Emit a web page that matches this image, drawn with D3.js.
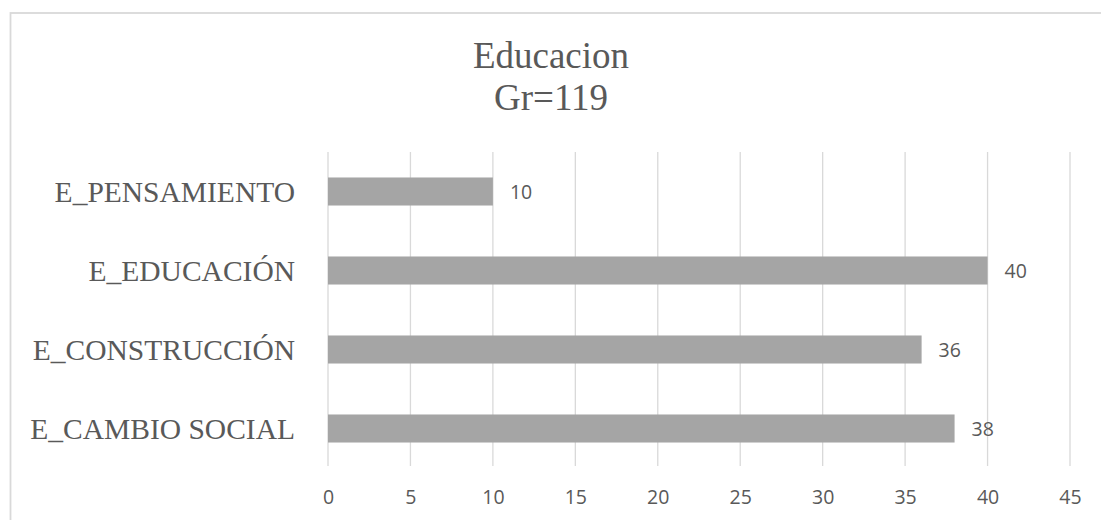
<!DOCTYPE html>
<html>
<head>
<meta charset="utf-8">
<script src="https://cdn.jsdelivr.net/npm/d3@7"></script>
<style>
  body { margin: 0; background: #fff; }
  svg { display: block; }
</style>
</head>
<body>
<div id="chart"></div>
<script>
// Data, top to bottom as drawn
var categories = ['E_PENSAMIENTO', 'E_EDUCACIÓN', 'E_CONSTRUCCIÓN', 'E_CAMBIO SOCIAL'];
var values = [10, 40, 36, 38];
var tickValues = [0, 5, 10, 15, 20, 25, 30, 35, 40, 45];
var titleLines = ['Educacion', 'Gr=119'];

var width = 1101;
var height = 520;
var textColor = '#595959';
var gridColor = '#d9d9d9';
var barColor = '#a5a5a5';

var svg = d3.select('#chart')
            .append('svg')
            .attr('width', width)
            .attr('height', height);

// Chart area border
svg.append('rect')
   .attr('x', 10.5)
   .attr('y', 13)
   .attr('width', 1100)
   .attr('height', 520)
   .attr('fill', 'none')
   .attr('stroke', gridColor)
   .attr('stroke-width', 1.8);

var x = d3.scaleLinear()
          .domain([0, 45])
          .range([328, 1070]);

var y = d3.scaleBand()
          .domain(categories)
          .range([152, 468])
          .paddingInner(0.645)
          .paddingOuter(0.3225);

// Grid lines
svg.selectAll('.grid')
   .data(tickValues)
   .enter()
   .append('line')
     .attr('class', 'grid')
     .attr('x1', function (d) { return x(d); })
     .attr('x2', function (d) { return x(d); })
     .attr('y1', 152)
     .attr('y2', 466)
     .attr('stroke', gridColor)
     .attr('stroke-width', 1.3);

// x axis labels
var xAxis = d3.axisBottom(x)
              .tickValues(tickValues)
              .tickSize(0)
              .tickPadding(0);

var gx = svg.append('g')
            .attr('transform', 'translate(0, 490)')
            .call(xAxis);
gx.select('.domain').remove();
gx.selectAll('text')
  .attr('font-family', '"Open Sans", sans-serif')
  .attr('font-size', 19.5)
  .attr('fill', textColor)
  .attr('dy', '0.71em');

// y axis labels
var yAxis = d3.axisLeft(y)
              .tickSize(0)
              .tickPadding(0);

var gy = svg.append('g')
            .attr('transform', 'translate(295, 0)')
            .call(yAxis);
gy.select('.domain').remove();
gy.selectAll('text')
  .attr('font-family', '"Liberation Serif", "Times New Roman", serif')
  .attr('font-size', 29.5)
  .attr('fill', textColor)
  .attr('dy', '0.36em');

// Bars
svg.selectAll('.bar')
   .data(values)
   .enter()
   .append('rect')
     .attr('class', 'bar')
     .attr('x', x(0))
     .attr('y', function (d, i) { return y(categories[i]); })
     .attr('width', function (d) { return x(d) - x(0); })
     .attr('height', y.bandwidth())
     .attr('fill', barColor);

// Data labels
svg.selectAll('.label')
   .data(values)
   .enter()
   .append('text')
     .attr('class', 'label')
     .attr('x', function (d) { return x(d) + 17; })
     .attr('y', function (d, i) { return y(categories[i]) + y.bandwidth() / 2; })
     .attr('dy', '0.36em')
     .attr('font-family', '"Open Sans", sans-serif')
     .attr('font-size', 19.5)
     .attr('fill', textColor)
     .text(function (d) { return d; });

// Title
svg.selectAll('.title')
   .data(titleLines)
   .enter()
   .append('text')
     .attr('class', 'title')
     .attr('x', 551)
     .attr('y', function (d, i) { return 68 + i * 42; })
     .attr('text-anchor', 'middle')
     .attr('font-family', '"Liberation Serif", "Times New Roman", serif')
     .attr('font-size', 37)
     .attr('fill', textColor)
     .text(function (d) { return d; });
</script>
</body>
</html>
